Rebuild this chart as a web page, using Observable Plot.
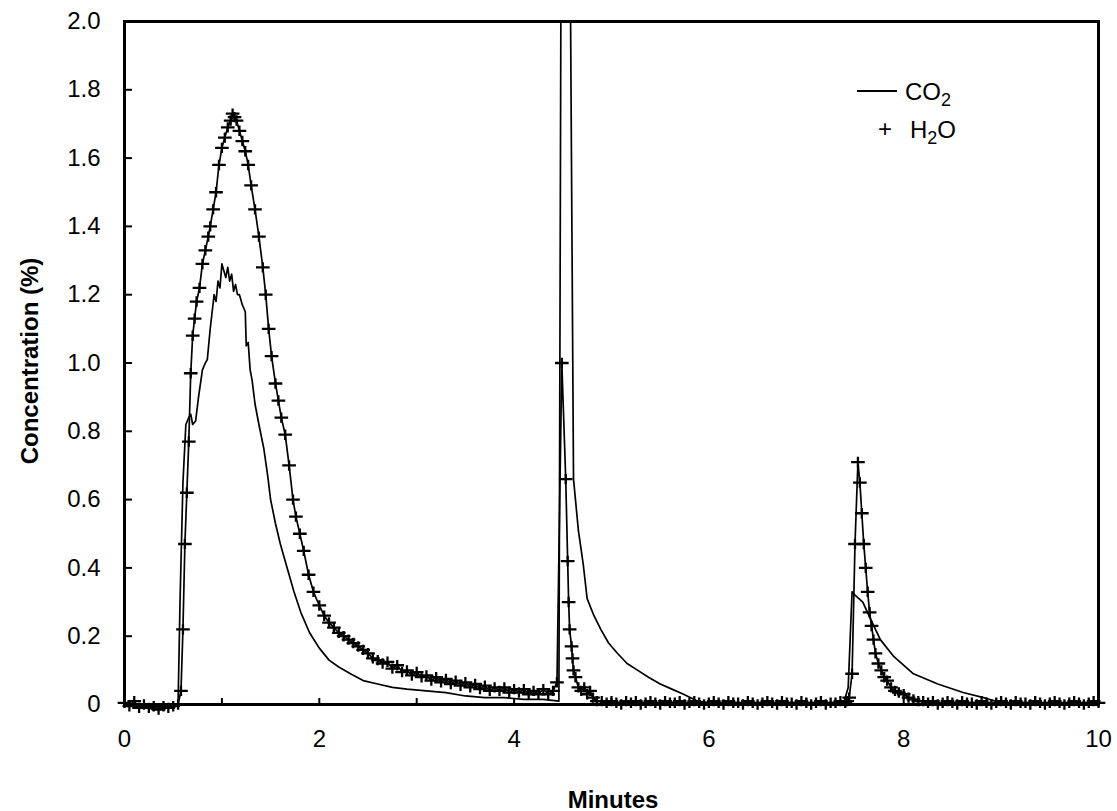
<!DOCTYPE html>
<html>
<head>
<meta charset="utf-8">
<script src="https://cdn.jsdelivr.net/npm/d3@7"></script>
<script src="https://cdn.jsdelivr.net/npm/@observablehq/plot@0.6"></script>
<style>
  html, body { margin: 0; padding: 0; background: #fff; }
  #wrap { position: relative; width: 1117px; height: 811px; font-family: "Liberation Sans", Arial, Helvetica, sans-serif; color: #000; }
  .ttl { position: absolute; font-weight: bold; font-size: 24px; white-space: nowrap; line-height: 1; }
  .leg { position: absolute; font-size: 24px; line-height: 1; white-space: nowrap; }
  .leg sub { font-size: 18px; vertical-align: -6px; line-height: 0; }
</style>
</head>
<body>
<div id="wrap">
  <div id="chart"></div>
  <div class="ttl" style="left:30px; top:361px; transform: translate(-50%,-50%) rotate(-90deg);">Concentration (%)</div>
  <div class="ttl" style="left:613px; top:800px; transform: translate(-50%,-50%);">Minutes</div>
  <div style="position:absolute; left:857px; top:90px; width:40px; height:2px; background:#000;"></div>
  <div class="leg" style="left:905px; top:80px;">CO<sub>2</sub></div>
  <div class="leg" style="left:878px; top:117px;">+</div>
  <div class="leg" style="left:910px; top:118px;">H<sub>2</sub>O</div>
</div>
<script>
// ---- data ----
const co2Minutes = [
  0,0.05,0.1,0.15,0.2,0.25,0.3,0.35,0.4,0.45,0.5,0.55,
  0.57,0.6,0.63,0.66,0.68,0.7,0.73,0.76,0.8,0.83,0.85,0.88,0.9,0.92,0.94,0.96,0.98,1.0,
  1.02,1.04,1.06,1.08,1.1,1.12,1.14,1.16,1.18,1.21,1.24,1.25,1.27,1.29,1.31,1.34,1.38,1.43,1.47,1.5,
  1.55,1.6,1.67,1.74,1.81,1.9,2.0,2.1,2.2,2.32,2.45,2.6,2.75,2.9,3.1,3.3,3.5,3.7,3.9,4.1,4.3,4.46,
  4.48,4.58,4.61,4.66,4.71,4.75,4.82,4.89,4.97,5.06,5.16,5.27,5.38,5.5,5.62,5.74,5.88,6.0,
  6.2,6.4,6.6,6.8,7.0,7.2,7.38,7.43,7.47,7.5,7.58,7.66,7.76,7.9,8.1,8.35,8.61,8.86,9.0,9.3,9.6,10
];
const co2Values = [
  0,-0.005,0,-0.01,-0.005,-0.01,-0.015,-0.01,-0.015,-0.005,-0.01,0,
  0.3,0.65,0.82,0.84,0.85,0.82,0.83,0.9,0.98,1.0,1.01,1.1,1.15,1.2,1.18,1.24,1.22,1.29,
  1.27,1.25,1.28,1.24,1.26,1.21,1.23,1.2,1.2,1.17,1.15,1.05,1.06,0.98,0.95,0.88,0.82,0.75,0.67,0.6,
  0.53,0.47,0.4,0.33,0.27,0.21,0.165,0.13,0.11,0.09,0.07,0.06,0.05,0.045,0.04,0.035,0.025,0.02,0.02,0.015,0.015,0.01,
  2.0,2.0,0.66,0.51,0.41,0.31,0.26,0.22,0.18,0.15,0.12,0.1,0.08,0.06,0.045,0.03,0.01,0.005,
  0,0.005,0,0.005,0,0.005,0,0.05,0.33,0.32,0.3,0.25,0.19,0.14,0.09,0.06,0.035,0.017,0.005,0,0.005,0
];

const h2oMinutes = [
  0,0.05,0.1,0.15,0.2,0.25,0.3,0.35,0.4,0.45,0.5,0.55,
  0.58,0.6,0.62,0.64,0.66,0.68,0.7,0.72,0.74,0.77,0.8,0.83,0.86,0.88,0.91,0.94,0.97,1.0,
  1.03,1.06,1.09,1.11,1.13,1.15,1.18,1.21,1.24,1.27,1.3,1.34,1.38,1.42,1.45,1.48,1.51,1.55,1.58,1.61,
  1.65,1.69,1.73,1.76,1.8,1.84,1.89,1.94,2.0,2.05,2.1,2.15,2.2,2.25,2.3,2.35,2.4,2.45,
  2.5,2.55,2.6,2.65,2.7,2.75,2.8,2.85,2.9,2.95,3.0,3.05,3.1,3.15,3.2,3.25,3.3,3.35,3.4,3.45,
  3.5,3.55,3.6,3.65,3.7,3.75,3.8,3.85,3.9,3.95,4.0,4.05,4.1,4.15,4.2,4.25,4.3,4.35,4.4,
  4.44,4.49,4.53,4.55,4.56,4.57,4.59,4.6,4.61,4.63,4.66,4.69,4.72,4.75,4.78,4.81,4.85,
  4.9,4.95,5,5.05,5.1,5.15,5.2,5.25,5.3,5.35,5.4,5.45,5.5,5.55,5.6,5.65,5.7,5.75,5.8,5.85,5.9,5.95,6,
  6.05,6.1,6.15,6.2,6.25,6.3,6.35,6.4,6.45,6.5,6.55,6.6,6.65,6.7,6.75,6.8,6.85,6.9,6.95,7,7.05,7.1,7.15,7.2,7.25,7.3,7.35,7.4,
  7.42,7.44,7.47,7.5,7.53,7.55,7.57,7.59,7.61,7.63,7.65,7.67,7.69,7.71,7.74,7.77,7.8,7.83,7.87,7.91,7.95,8.0,8.05,8.1,8.15,
  8.2,8.25,8.3,8.35,8.4,8.45,8.5,8.55,8.6,8.65,8.7,8.75,8.8,8.85,8.9,8.95,9,9.05,9.1,9.15,9.2,9.25,9.3,9.35,9.4,9.45,9.5,9.55,9.6,9.65,9.7,9.75,9.8,9.85,9.9,9.95,10
];
const h2oValues = [
  0.005,-0.005,0.01,-0.01,0,-0.01,-0.005,-0.015,-0.005,-0.01,-0.005,0,
  0.04,0.22,0.47,0.62,0.77,0.97,1.08,1.13,1.18,1.22,1.29,1.33,1.37,1.4,1.45,1.5,1.58,1.63,
  1.66,1.69,1.71,1.73,1.72,1.71,1.68,1.65,1.62,1.58,1.52,1.45,1.37,1.28,1.2,1.1,1.02,0.94,0.89,0.84,
  0.79,0.7,0.6,0.55,0.5,0.45,0.38,0.33,0.29,0.26,0.24,0.225,0.21,0.2,0.19,0.18,0.17,0.16,
  0.15,0.135,0.13,0.12,0.125,0.105,0.115,0.095,0.1,0.085,0.095,0.08,0.085,0.07,0.08,0.065,0.075,0.06,0.07,0.055,
  0.065,0.05,0.06,0.045,0.055,0.04,0.05,0.04,0.05,0.035,0.045,0.035,0.045,0.03,0.04,0.03,0.045,0.03,0.04,
  0.065,1.0,0.66,0.42,0.3,0.22,0.17,0.135,0.1,0.08,0.05,0.04,0.05,0.03,0.04,0.02,0.01,
  0.01,0.005,0.01,0.005,0,0.01,0.005,0.01,0,0.005,0.01,0.005,0,0.01,0.005,0.005,0.01,0,0.005,0.01,0.005,0,0.005,
  0.01,0.005,0,0.01,0.005,0.005,0,0.01,0.005,0,0.005,0.01,0.005,0,0.01,0.005,0.005,0,0.01,0.005,0,0.005,0.01,0,0.005,0.005,0.01,0.005,
  0.01,0.02,0.09,0.47,0.71,0.65,0.56,0.47,0.4,0.33,0.27,0.23,0.19,0.15,0.12,0.1,0.08,0.07,0.05,0.04,0.035,0.03,0.02,0.015,0.01,
  0.01,0.005,0.01,0,0.005,0.01,0.005,0,0.01,0.005,0.005,0,0.01,0.005,0,0.005,0.01,0.005,0,0.01,0.005,0.005,0,0.01,0.005,0,0.005,0.01,0.005,0,0.005,0.01,0.005,0,0.005,0.01,0.005
];

const xTickValues = [0,1,2,3,4,5,6,7,8,9,10];
const xLabelValues = [0,2,4,6,8,10];
const yTickValues = [0,0.2,0.4,0.6,0.8,1.0,1.2,1.4,1.6,1.8,2.0];

// ---- build tables ----
const nC = Math.min(co2Minutes.length, co2Values.length);
const co2 = d3.range(nC).map(i => ({minutes: co2Minutes[i], conc: co2Values[i]}));
const nH = Math.min(h2oMinutes.length, h2oValues.length);
const h2o = d3.range(nH).map(i => ({minutes: h2oMinutes[i], conc: h2oValues[i]}));

// "+" marker with a slightly wider horizontal bar, like the plotter's symbol
const plusMarker = {
  draw(context, size) {
    const r = Math.sqrt(size / Math.PI);
    context.moveTo(-r * 1.05, 0); context.lineTo(r * 1.05, 0);
    context.moveTo(0, -r * 0.8); context.lineTo(0, r * 0.8);
  }
};

const chart = Plot.plot({
  width: 1117,
  height: 811,
  marginLeft: 124,
  marginRight: 19,
  marginTop: 21,
  marginBottom: 107,
  style: {fontFamily: '"Liberation Sans", Arial, Helvetica, sans-serif', fontSize: "24px", color: "#000", background: "#fff", overflow: "visible"},
  x: {domain: [0, 10]},
  y: {domain: [0, 2]},
  marks: [
    Plot.axisX({ticks: xTickValues, tickSize: -6, tickFormat: () => "", label: null, strokeWidth: 2}),
    Plot.axisX({ticks: xLabelValues, tickSize: 0, tickPadding: 25, tickFormat: d => String(d), label: null, fontSize: 24}),
    Plot.axisY({ticks: yTickValues, tickSize: -8, tickPadding: 32, tickFormat: d => d === 0 ? "0" : d.toFixed(1), label: null, fontSize: 24, strokeWidth: 2}),
    Plot.line(co2, {x: "minutes", y: "conc", stroke: "#000", strokeWidth: 1.7}),
    Plot.line(h2o, {x: "minutes", y: "conc", stroke: "#000", strokeWidth: 1.7}),
    Plot.dot(h2o, {x: "minutes", y: "conc", symbol: plusMarker, r: 6.5, stroke: "#000", strokeWidth: 2.3}),
    Plot.frame({stroke: "#000", strokeWidth: 3})
  ]
});
document.getElementById("chart").appendChild(chart);
</script>
</body>
</html>
